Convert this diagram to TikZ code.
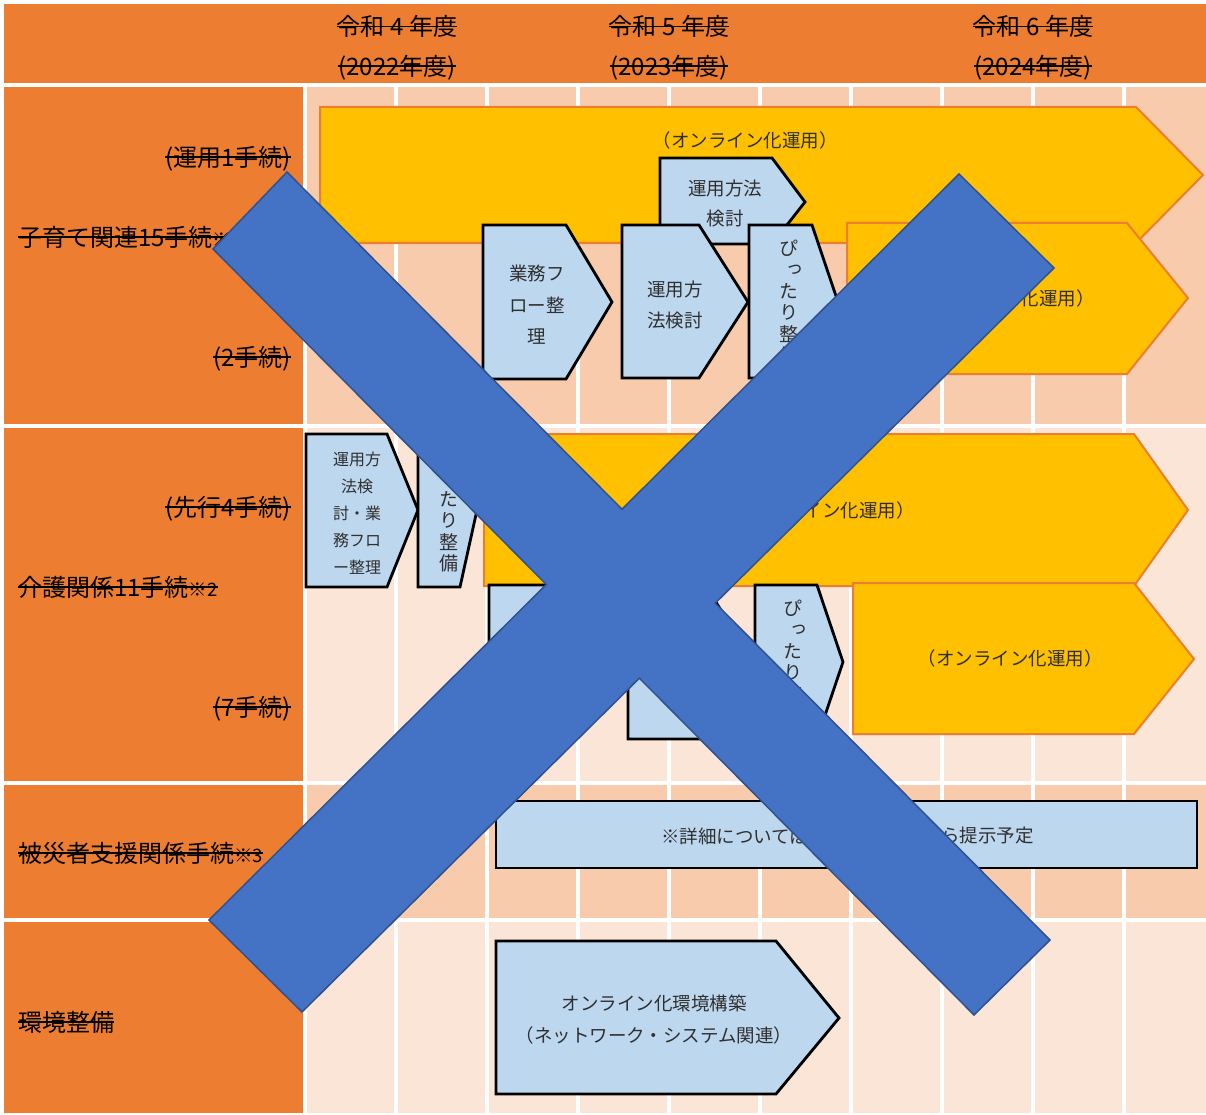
\documentclass[tikz,border=0pt]{standalone}
\usepackage{fontspec}
\setmainfont{Noto Sans CJK JP}
\newfontfamily\vjp[RawFeature=+vert]{Noto Sans CJK JP}
\usepackage{tikz}
\usetikzlibrary{calc}

\definecolor{hdr}{HTML}{ED7D31}
\definecolor{cellA}{HTML}{F8CBAD}
\definecolor{cellB}{HTML}{FBE5D6}
\definecolor{yel}{HTML}{FFC000}
\definecolor{lblue}{HTML}{BDD7EE}
\definecolor{xblue}{HTML}{4472C4}
\definecolor{xedge}{HTML}{2F528F}
\definecolor{txt}{HTML}{303030}

% small reference marks
\newcommand{\kome}[1]{{\fontsize{18.5}{18}\selectfont ※#1}}
% shifted small tsu for the stacked texts
\newcommand{\tsu}{\hspace*{7pt}っ}

\tikzset{
  strikeline/.style={draw=black, line width=1.8pt},
  lbl/.style={font=\fontsize{24}{28}\selectfont, inner sep=0pt,
    append after command={([yshift=9.5pt]\tikzlastnode.base west)
      edge[strikeline] ([yshift=9.5pt]\tikzlastnode.base east)}},
  yelshape/.style={fill=yel, draw=hdr, line width=2pt},
  blueshape/.style={fill=lblue, draw=black, line width=2.8pt},
  boxtxt/.style={font=\fontsize{18.5}{31.5}\selectfont, text=txt, align=center, inner sep=0pt},
  vtxt/.style={font=\vjp\fontsize{19}{21.5}\selectfont, text=txt, align=center, inner sep=0pt},
  gridline/.style={white, line width=3.5pt}
}

\begin{document}
\begin{tikzpicture}[x=1pt,y=-1pt]
    \useasboundingbox[fill=white] (0,0) rectangle (1206,1115);
    % header and row heads
    \fill[hdr] (4,4) rectangle (1206,83);
    \fill[hdr] (4,87) rectangle (303,424);
    \fill[hdr] (4,428) rectangle (303,781);
    \fill[hdr] (4,785) rectangle (303,918);
    \fill[hdr] (4,922) rectangle (303,1113);
    % grid cells
    \fill[cellA] (307,87) rectangle (1206,424);
    \fill[cellB] (307,428) rectangle (1206,781);
    \fill[cellA] (307,785) rectangle (1206,918);
    \fill[cellB] (307,922) rectangle (1206,1113);
    \foreach \cx in {396,487,578,669,760,851,942,1033,1124}
        \draw[gridline] (\cx,85) -- (\cx,1115);

    % years
    \node[lbl, anchor=base] (y4a) at (397,36) {令和 4 年度};
    \node[lbl, anchor=base] (y4b) at (397,75.5) {(2022年度)};
    \node[lbl, anchor=base] (y5a) at (669,36) {令和 5 年度};
    \node[lbl, anchor=base] (y5b) at (669,75.5) {(2023年度)};
    \node[lbl, anchor=base] (y6a) at (1033,36) {令和 6 年度};
    \node[lbl, anchor=base] (y6b) at (1033,75.5) {(2024年度)};

    % row heads
    \node[lbl, anchor=base east] (r1a) at (291,166.5) {(運用1手続)};
    \node[lbl, anchor=base west] (r1) at (18,246.5) {子育て関連15手続\kome{1}};
    \node[lbl, anchor=base east] (r1b) at (291,366.5) {(2手続)};
    \node[lbl, anchor=base east] (r2a) at (291,516.5) {(先行4手続)};
    \node[lbl, anchor=base west] (r2) at (18,596.5) {介護関係11手続\kome{2}};
    \node[lbl, anchor=base east] (r2b) at (291,716.5) {(7手続)};
    \node[lbl, anchor=base west] (r3) at (18,862.5) {被災者支援関係手続\kome{3}};
    \node[lbl, anchor=base west] (r4) at (18,1031.5) {環境整備};

    % row 1
    \draw[yelshape] (320,107) -- (1136,107) -- (1203,175) -- (1136,243) -- (320,243) -- cycle;
    \node[boxtxt] (op1) at (745,140) {（オンライン化運用）};
    \draw[blueshape] (660,158) -- (772,158) -- (805,202) -- (772,244) -- (660,244) -- cycle;
    \node[boxtxt, font=\fontsize{18.5}{30}\selectfont] (ke1) at (725,203) {運用方法\\検討};
    \draw[yelshape] (847,223) -- (1127,223) -- (1188,298) -- (1127,374) -- (847,374) -- cycle;
    \node[boxtxt] (op2) at (1002,298) {（オンライン化運用）};
    \draw[blueshape] (483,225) -- (566,225) -- (612,302) -- (566,379) -- (483,379) -- cycle;
    \node[boxtxt] (gf1) at (537,305) {業務フ\\ロー整\\理};
    \draw[blueshape] (622,225) -- (699,225) -- (748,302) -- (699,378) -- (622,378) -- cycle;
    \node[boxtxt] (ke2) at (675,305) {運用方\\法検討};
    \draw[blueshape] (749,225) -- (812,225) -- (838,302) -- (812,378) -- (749,378) -- cycle;
    \node[vtxt] (pt1) at (789,302) {ぴ\\\tsu\\た\\り\\整\\備};

    % row 2
    \draw[yelshape] (484,434) -- (1134,434) -- (1188,510) -- (1134,586) -- (484,586) -- cycle;
    \node[boxtxt] (op3) at (822,510) {（オンライン化運用）};
    \draw[yelshape] (853,583) -- (1134,583) -- (1194,659) -- (1134,734) -- (853,734) -- cycle;
    \node[boxtxt] (op4) at (1010,658) {（オンライン化運用）};
    \draw[blueshape] (306,434) -- (387,434) -- (418,510) -- (387,587) -- (306,587) -- cycle;
    \node[boxtxt, font=\fontsize{16}{27}\selectfont] (kg) at (357,513) {運用方\\法検\\討・業\\務フロ\\ー整理};
    \draw[blueshape] (418,434) -- (460,434) -- (477,510) -- (460,587) -- (418,587) -- cycle;
    \node[vtxt] (pt2) at (449,510) {ぴ\\\tsu\\た\\り\\整\\備};
    \draw[blueshape] (489,585) -- (573,585) -- (619,662) -- (573,739) -- (489,739) -- cycle;
    \draw[blueshape] (628,585) -- (705,585) -- (754,662) -- (705,739) -- (628,739) -- cycle;
    \draw[blueshape] (755,585) -- (817,585) -- (843,662) -- (817,739) -- (755,739) -- cycle;
    \node[vtxt] (pt3) at (793,662) {ぴ\\\tsu\\た\\り\\整\\備};

    % row 3
    \draw[blueshape] (496,801) rectangle (1197,868);
    \node[boxtxt, anchor=west] (dt1) at (661,836) {※詳細については};
    \node[boxtxt, anchor=east] (dt2) at (1034,836) {ら提示予定};

    % row 4
    \draw[blueshape] (496,941) -- (776,941) -- (839,1018) -- (776,1094) -- (496,1094) -- cycle;
    \node[boxtxt, font=\fontsize{18.5}{32}\selectfont] (env) at (654,1020) {オンライン化環境構築\\（ネットワーク・システム関連）};

    % cross
    \path coordinate (a1) at (287,172) coordinate (a2) at (1050,940);
    \path coordinate (b1) at (213,249) coordinate (b2) at (974,1015);
    \path coordinate (c1) at (959,174) coordinate (c2) at (209,920);
    \path coordinate (d1) at (1054,268) coordinate (d2) at (302,1012);
    \draw[fill=xblue, draw=xedge, line width=1.5pt]
        (a1) -- (intersection of a1--a2 and c1--c2) -- (c1) -- (d1)
        -- (intersection of a1--a2 and d1--d2) -- (a2) -- (b2)
        -- (intersection of b1--b2 and d1--d2) -- (d2) -- (c2)
        -- (intersection of b1--b2 and c1--c2) -- (b1) -- cycle;
\end{tikzpicture}
\end{document}
